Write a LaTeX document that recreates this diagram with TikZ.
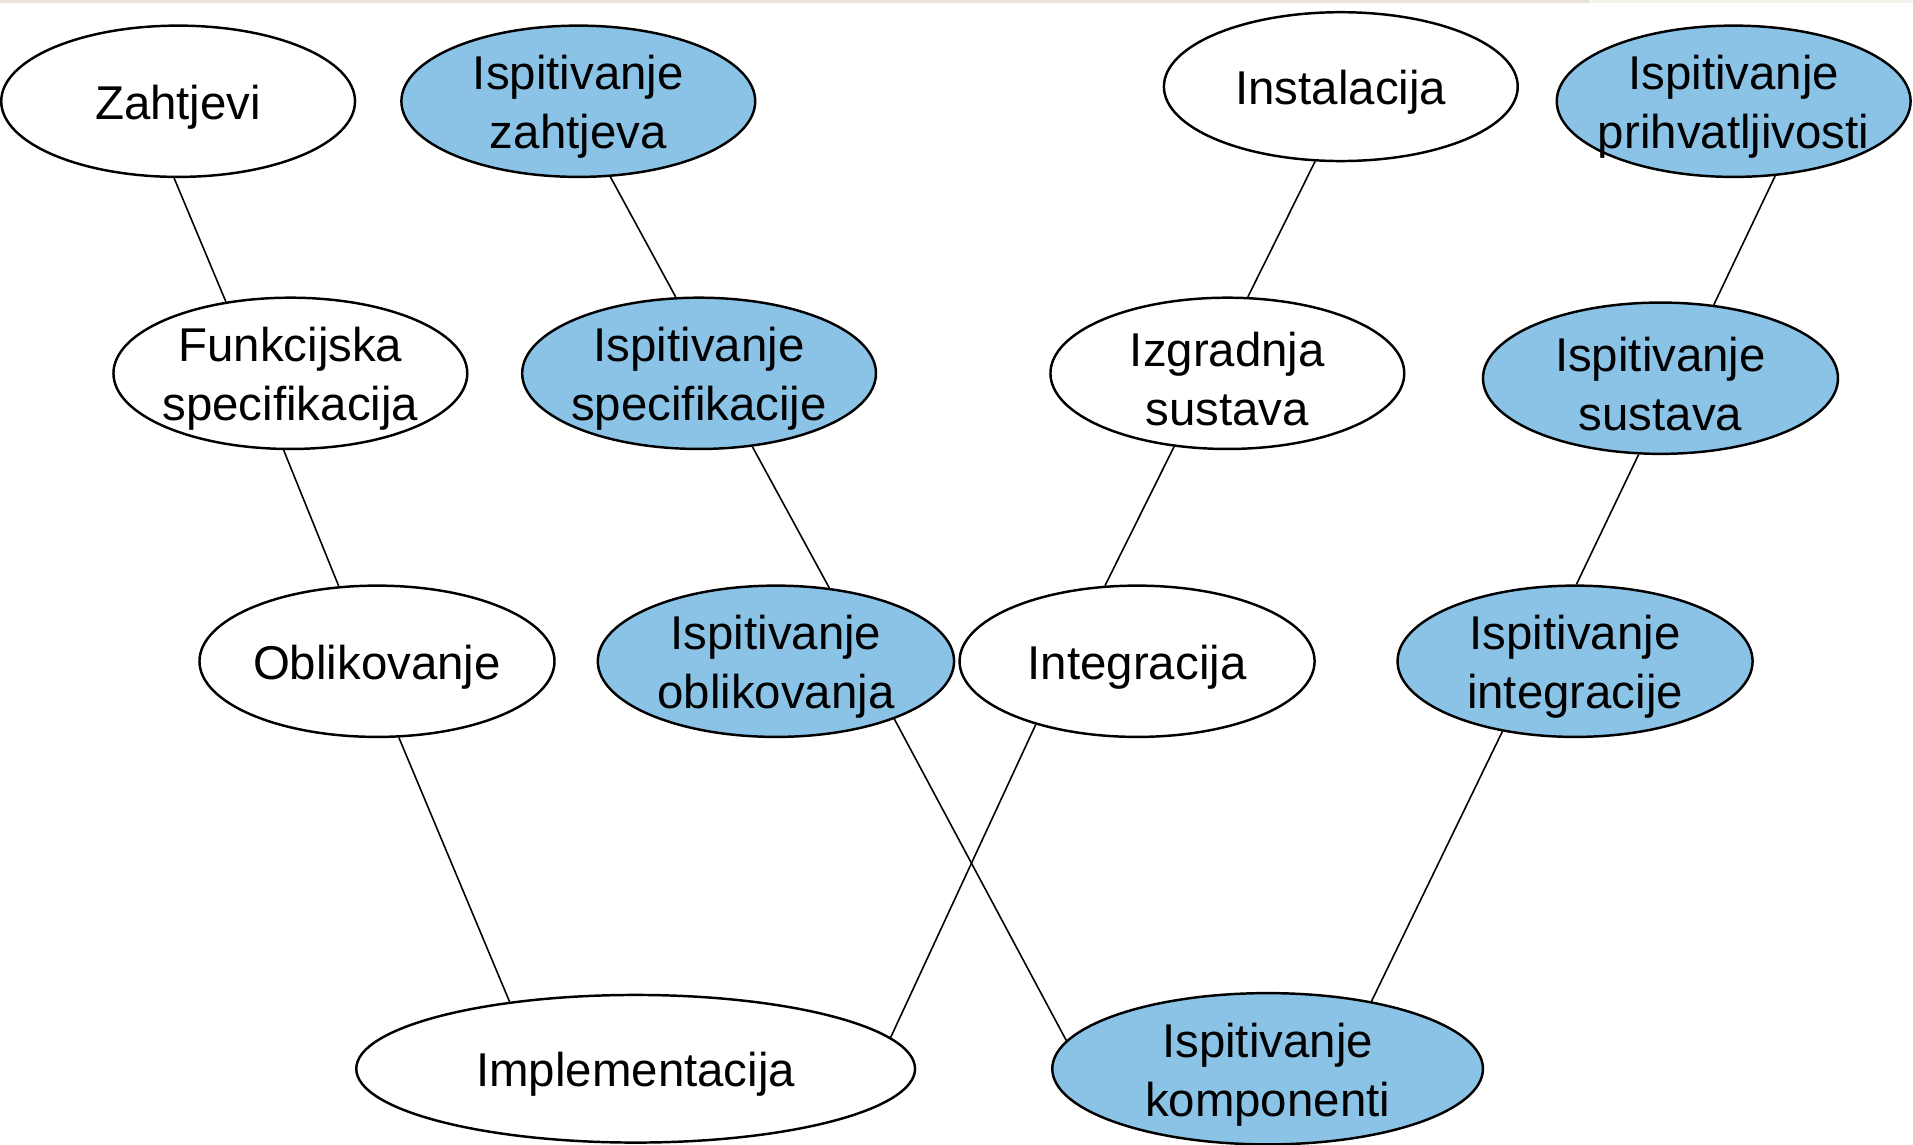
\documentclass[tikz,border=0pt]{standalone}
\usepackage{fontspec}
\setmainfont{Liberation Sans}
\usetikzlibrary{shapes.geometric}
\definecolor{testblue}{RGB}{139,195,230}
\definecolor{topband}{RGB}{231,227,218}
\definecolor{topbandlight}{RGB}{244,242,237}
\tikzset{
  phase/.style 2 args={ellipse, draw=black, line width=0.7pt, fill=white,
    inner sep=0pt, minimum width=#1*0.0122cm, minimum height=#2*0.0122cm},
  test/.style={fill=testblue},
  lbl/.style={inner sep=0pt, align=center, yshift=-0.058cm,
    font=\fontsize{13.5}{16.8}\selectfont},
  link/.style={draw=black, line width=0.45pt},
}
\begin{document}
\begin{tikzpicture}[x=0.0122cm, y=-0.0122cm]
\useasboundingbox (0,0) rectangle (1568,938);
\fill[white] (0,0) rectangle (1568,938);
\fill[topband] (0,0) rectangle (1302,2.6);
\fill[topbandlight] (1302,0) rectangle (1568,2.6);

% top row
\node[phase={290}{124}, label={[lbl]center:Zahtjevi}] (zah) at (146,83) {};
\node[phase={290}{124}, test, label={[lbl]center:Ispitivanje\\zahtjeva}] (izah) at (474,83) {};
\node[phase={290}{122}, label={[lbl]center:Instalacija}] (inst) at (1099,71) {};
\node[phase={290}{124}, test, label={[lbl]center:Ispitivanje\\prihvatljivosti}] (iprih) at (1421,83) {};

% second row
\node[phase={290}{124}, label={[lbl]center:Funkcijska\\specifikacija}] (funk) at (238,306) {};
\node[phase={290}{124}, test, label={[lbl]center:Ispitivanje\\specifikacije}] (ispec) at (573,306) {};
\node[phase={290}{124}, label={[lbl]center:Izgradnja\\sustava}] (izgr) at (1006,306) {};
\node[phase={291}{124}, test, label={[lbl]center:Ispitivanje\\sustava}] (isust) at (1361,310) {};

% third row
\node[phase={291}{124}, label={[lbl]center:Oblikovanje}] (obl) at (309,542) {};
\node[phase={292}{124}, test, label={[lbl]center:Ispitivanje\\oblikovanja}] (iobl) at (636,542) {};
\node[phase={291}{124}, label={[lbl]center:Integracija}] (integ) at (932,542) {};
\node[phase={291}{124}, test, label={[lbl]center:Ispitivanje\\integracije}] (iint) at (1291,542) {};

% bottom row
\node[phase={458}{121}, label={[lbl]center:Implementacija}] (impl) at (521,876) {};
\node[phase={353}{124}, test, label={[lbl]center:Ispitivanje\\komponenti}] (ikomp) at (1039,876) {};

% connectors
\draw[link] (zah.267) -- (funk.132);
\draw[link] (izah.293) -- (ispec.107.6);
\draw[link] (inst.251) -- (izgr.75.7);
\draw[link] (iprih.299) -- (isust.54.8);
\draw[link] (funk.265.5) -- (obl.117.7);
\draw[link] (ispec.306.4) -- (iobl.54.8);
\draw[link] (izgr.234.6) -- (integ.113.1);
\draw[link] (isust.254) -- (iint.89);
\draw[link] (obl.286) -- (impl.152.4);
\draw[link] (iobl.334) -- (ikomp.172.1);
\draw[link] (integ.212.4) -- (impl.7.5);
\draw[link] (iint.224.5) -- (ikomp.33.4);
\end{tikzpicture}
\end{document}
